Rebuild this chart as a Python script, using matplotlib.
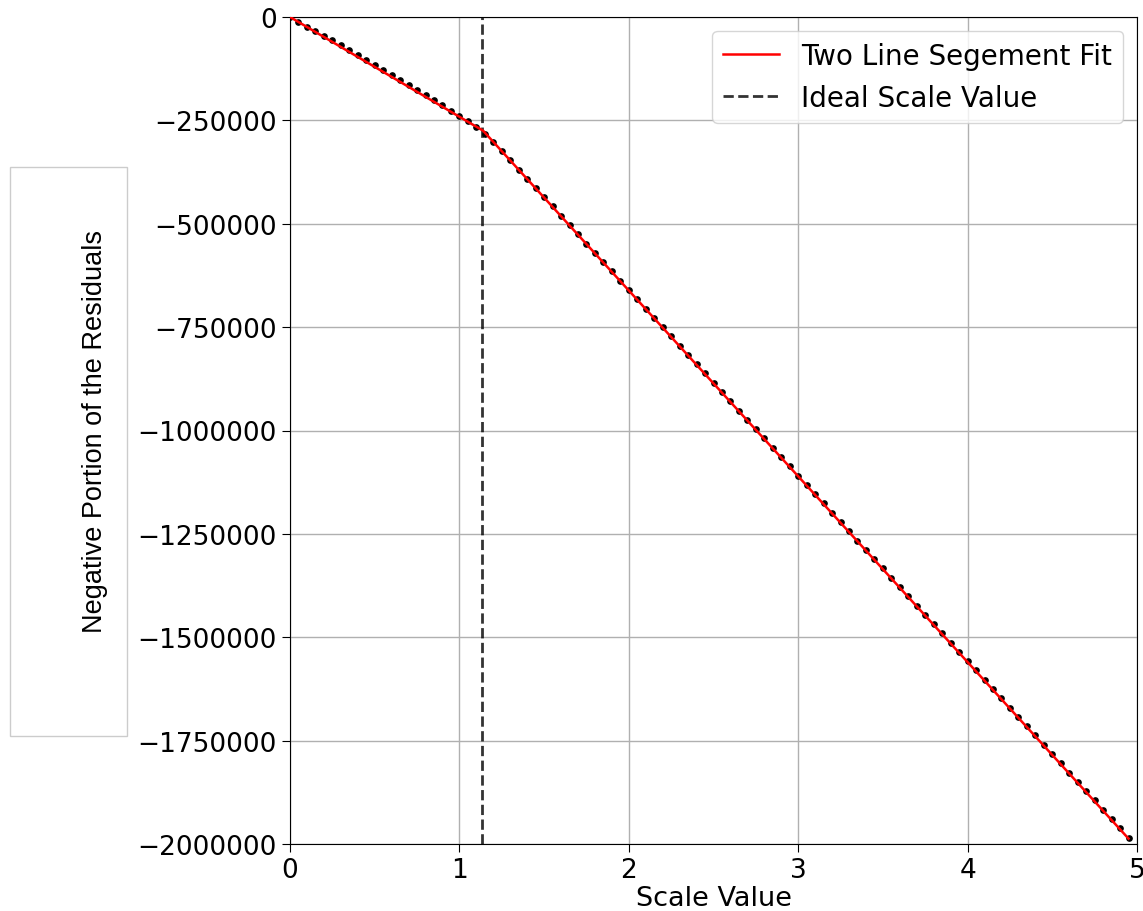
import matplotlib
matplotlib.use('Agg')
import matplotlib.pyplot as plt
from matplotlib.patches import Rectangle

# scale values and the negative part of the residuals
scale = [0.00, 0.05, 0.10, 0.15, 0.20, 0.25, 0.30, 0.35, 0.40, 0.45,
         0.50, 0.55, 0.60, 0.65, 0.70, 0.75, 0.80, 0.85, 0.90, 0.95,
         1.00, 1.05, 1.10, 1.15, 1.20, 1.25, 1.30, 1.35, 1.40, 1.45,
         1.50, 1.55, 1.60, 1.65, 1.70, 1.75, 1.80, 1.85, 1.90, 1.95,
         2.00, 2.05, 2.10, 2.15, 2.20, 2.25, 2.30, 2.35, 2.40, 2.45,
         2.50, 2.55, 2.60, 2.65, 2.70, 2.75, 2.80, 2.85, 2.90, 2.95,
         3.00, 3.05, 3.10, 3.15, 3.20, 3.25, 3.30, 3.35, 3.40, 3.45,
         3.50, 3.55, 3.60, 3.65, 3.70, 3.75, 3.80, 3.85, 3.90, 3.95,
         4.00, 4.05, 4.10, 4.15, 4.20, 4.25, 4.30, 4.35, 4.40, 4.45,
         4.50, 4.55, 4.60, 4.65, 4.70, 4.75, 4.80, 4.85, 4.90, 4.95]
resid = [0, -13000, -23500, -34000, -45000, -56000, -68000, -80000, -92000, -104000,
         -116000, -128000, -140000, -152000, -164000, -176500, -189000, -201500, -214000, -226500,
         -239000, -252000, -266000, -283000, -302000, -324000, -346500, -369500, -391500, -413500,
         -436000, -458000, -480500, -503000, -525400, -548000, -570300, -592800, -615200, -637700,
         -660000, -682500, -705000, -727300, -749800, -772200, -794800, -817000, -839600, -862000,
         -884500, -906900, -929400, -951800, -974300, -996700, -1019200, -1041600, -1064100, -1086500,
         -1109000, -1131400, -1153900, -1176300, -1198800, -1221200, -1243700, -1266100, -1288600, -1311000,
         -1333500, -1355900, -1378400, -1400800, -1423300, -1445700, -1468200, -1490600, -1513100, -1535500,
         -1558000, -1580400, -1602900, -1625300, -1647800, -1670200, -1692700, -1715100, -1737600, -1760000,
         -1782500, -1804900, -1827400, -1849800, -1872300, -1894700, -1917200, -1939600, -1962100, -1984500]

# two line segment fit
fit_x = [0.0, 1.14, 4.95]
fit_y = [0, -275000, -1987000]
ideal_scale = 1.135

fig = plt.figure(figsize=(11.43, 9.12), dpi=100)
ax = fig.add_axes([290/1143, 1-845/912, 847/1143, 827/912])

ax.plot(scale, resid, 'o', color='black', markersize=3.8, zorder=3)
ax.plot(fit_x, fit_y, color='red', linewidth=1.8, label='Two Line Segement Fit', zorder=4)
ax.axvline(ideal_scale, color='black', linestyle='--', linewidth=2, alpha=0.8,
           label='Ideal Scale Value')

ax.set_xlim(0, 5)
ax.set_ylim(-2000000, 0)
ax.set_xticks([0, 1, 2, 3, 4, 5])
ax.set_yticks([0, -250000, -500000, -750000, -1000000, -1250000, -1500000, -1750000, -2000000])
ax.ticklabel_format(style='plain', axis='y', useOffset=False)
ax.tick_params(labelsize=19, length=6)
ax.grid(True, color='#b0b0b0', linewidth=1)
ax.set_axisbelow(True)
ax.set_xlabel('Scale Value', fontsize=19.5, labelpad=1)

ax.legend(loc='upper right', fontsize=20)

# y label sits in its own box on the left
fig.patches.append(Rectangle((10/1143, 1-737/912), 117/1143, 569/912,
                             transform=fig.transFigure, fill=False,
                             edgecolor='#cccccc', linewidth=1))
fig.text(95/1143, 1-432/912, 'Negative Portion of the Residuals', rotation=90,
         ha='center', va='center', fontsize=19.5, family='Liberation Sans')

fig.savefig('out.png', dpi=100)
